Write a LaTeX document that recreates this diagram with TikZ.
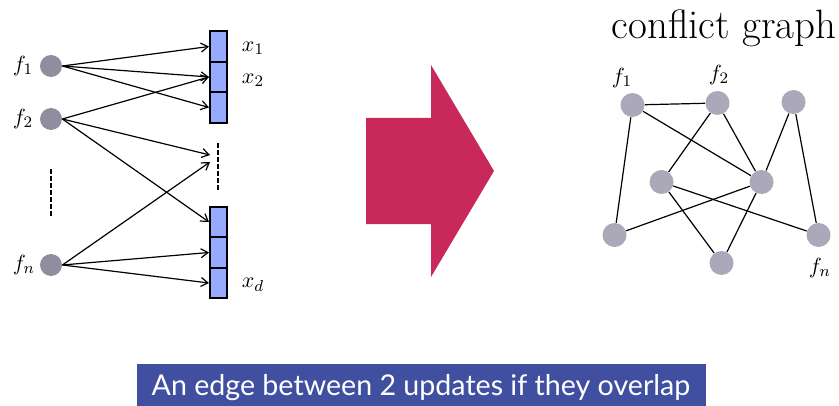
\documentclass[tikz,border=0pt]{standalone}
\usepackage{fontspec}
\usetikzlibrary{arrows.meta}
\newfontfamily\bannerfont{Lato}
\definecolor{leftdot}{RGB}{142,142,158}
\definecolor{rightdot}{RGB}{170,168,185}
\definecolor{cellblue}{RGB}{150,170,255}
\definecolor{bigarrow}{RGB}{200,41,90}
\definecolor{bannerblue}{RGB}{65,79,161}
\begin{document}
\begin{tikzpicture}[x=0.5pt,y=-0.5pt,
  ldot/.style={circle,fill=leftdot,minimum size=11pt,inner sep=0},
  rdot/.style={circle,fill=rightdot,minimum size=12pt,inner sep=0},
  cell/.style={draw=black,line width=1pt,fill=cellblue,minimum width=8.5pt,minimum height=15.25pt,inner sep=0},
  conn/.style={-{Straight Barb[length=3.5pt,width=4.5pt]},line width=0.6pt},
  gedge/.style={line width=0.6pt},
  vdots/.style={line width=1pt,dash pattern=on 2.5pt off 1pt},
  lab/.style={font=\fontsize{11}{13}\selectfont,inner sep=0}]
\useasboundingbox (0,0) rectangle (839,406);
% left side
\node[ldot] (f1) at (51,66) {};
\node[ldot] (f2) at (51,119) {};
\node[ldot] (fn) at (51,265) {};
\node[lab] (lf1) at (23,66) {$f_1$};
\node[lab] (lf2) at (23,119) {$f_2$};
\node[lab] (lfn) at (24,265) {$f_n$};
\draw[vdots] (51,169) -- (51,218);
\node[cell] (b1) at (218.5,46.5) {};
\node[cell] (b2) at (218.5,77) {};
\node[cell] (b3) at (218.5,107.5) {};
\node[cell] (c1) at (218.5,222) {};
\node[cell] (c2) at (218.5,252.5) {};
\node[cell] (c3) at (218.5,283) {};
\draw[vdots] (218,143) -- (218,192);
\coordinate (m1) at (210,155);
\coordinate (m2) at (210,162);
\node[lab] (lx1) at (253,48) {$x_1$};
\node[lab] (lx2) at (253,80) {$x_2$};
\node[lab] (lxd) at (253,285) {$x_d$};
\draw[conn] (f1.east) -- (b1.west);
\draw[conn] (f1.east) -- (b2.west);
\draw[conn] (f1.east) -- (b3.west);
\draw[conn] (f2.east) -- (b2.west);
\draw[conn] (f2.east) -- (m1);
\draw[conn] (f2.east) -- (c1.west);
\draw[conn] (fn.east) -- (m2);
\draw[conn] (fn.east) -- (c2.west);
\draw[conn] (fn.east) -- (c3.west);
% big arrow
\fill[bigarrow] (366,118) -- (431,118) -- (431,65) -- (494,171) -- (431,277) -- (431,224) -- (366,224) -- cycle;
% conflict graph
\node[font=\fontsize{20.5}{24}\selectfont,inner sep=0] (title) at (724,28) {conflict graph};
\node[rdot] (A) at (632.5,105) {};
\node[rdot] (B) at (717.5,103) {};
\node[rdot] (C) at (793.5,102) {};
\node[rdot] (D) at (661.5,182) {};
\node[rdot] (E) at (761.5,182) {};
\node[rdot] (F) at (614.5,235) {};
\node[rdot] (G) at (721.5,263) {};
\node[rdot] (H) at (818.5,235) {};
\node[lab] (lA) at (622,78) {$f_1$};
\node[lab] (lB) at (719,75) {$f_2$};
\node[lab] (lH) at (820,268) {$f_n$};
\draw[gedge] (A) -- (B);
\draw[gedge] (A) -- (E);
\draw[gedge] (A) -- (F);
\draw[gedge] (B) -- (D);
\draw[gedge] (B) -- (E);
\draw[gedge] (C) -- (E);
\draw[gedge] (C) -- (H);
\draw[gedge] (D) -- (H);
\draw[gedge] (D) -- (G);
\draw[gedge] (E) -- (F);
\draw[gedge] (E) -- (G);
% banner
\fill[bannerblue] (137,364) rectangle (706,406);
\node[anchor=base,text=white,inner sep=0,font=\bannerfont\fontsize{14.3}{17}\selectfont] (banner) at (421,395) {An edge between 2 updates if they overlap};
\end{tikzpicture}
\end{document}
